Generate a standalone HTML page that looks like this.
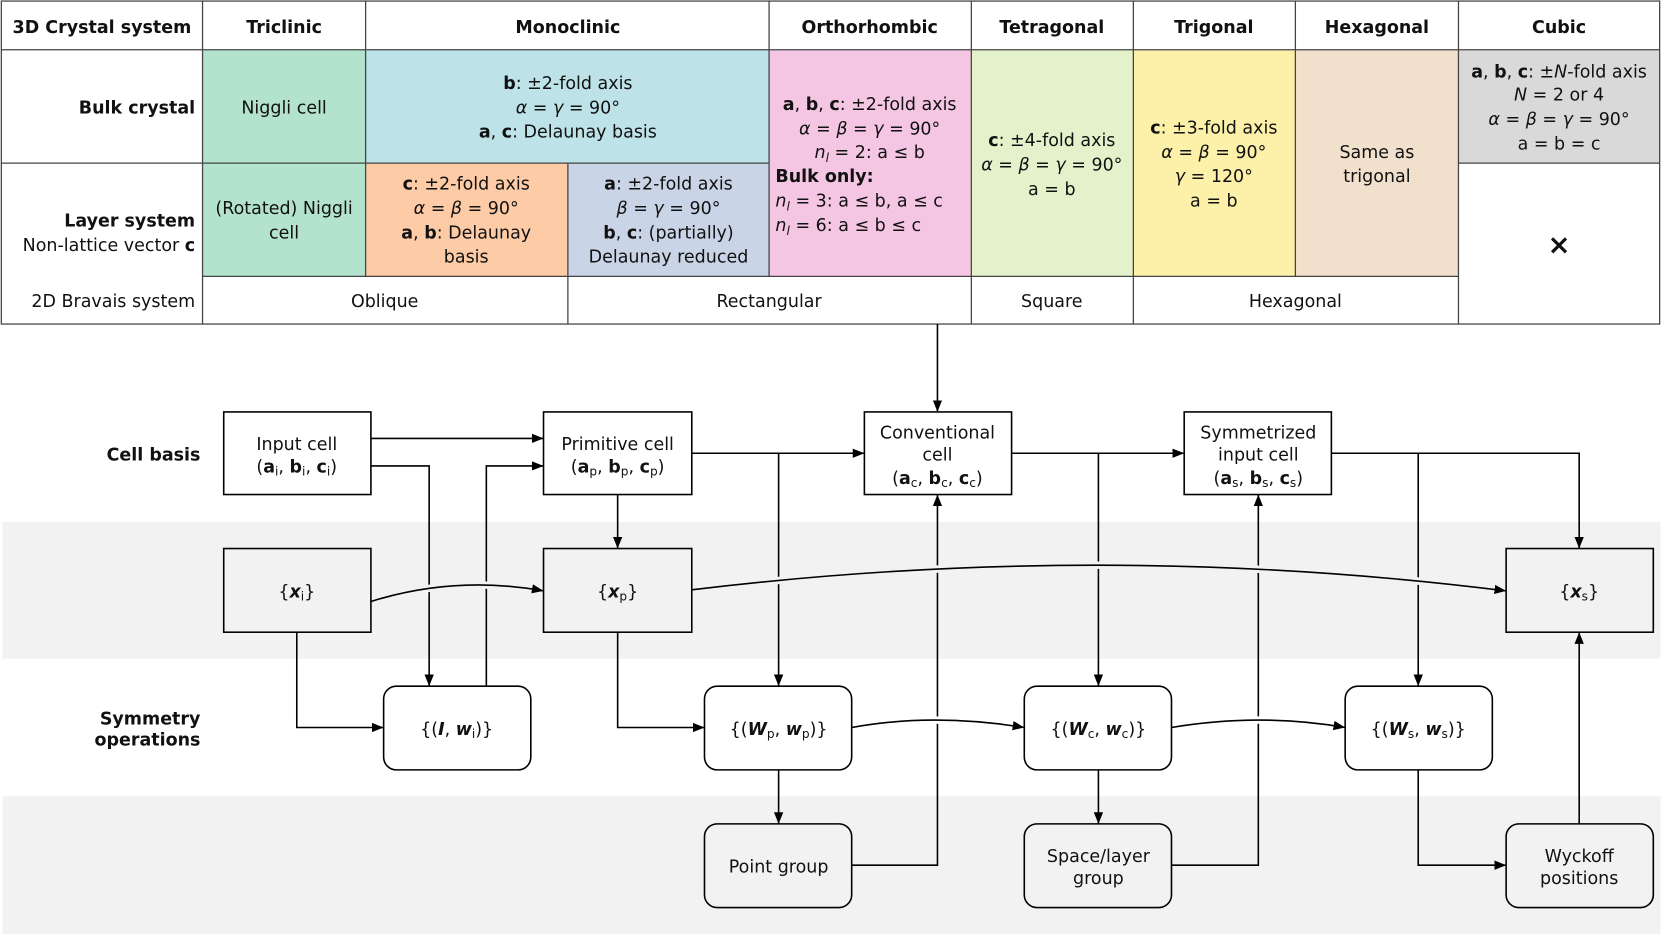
<!DOCTYPE html>
<html><head><meta charset="utf-8"><style>
html,body{margin:0;padding:0;background:#fff}
svg{display:block}
text{font-family:"DejaVu Sans","Liberation Sans",sans-serif;font-size:16.5px;fill:#111}
.b{font-weight:bold}
.i{font-style:italic}
tspan.s{font-size:11.5px}
text.x{font-size:26px;font-weight:bold}
</style></head><body>
<svg width="1661" height="934" viewBox="0 0 1568 882" xmlns="http://www.w3.org/2000/svg">
<defs>
<marker id="ar" viewBox="0 0 10 10" refX="10" refY="5" markerWidth="11" markerHeight="11" markerUnits="userSpaceOnUse" orient="auto"><path d="M0,1 L10,5 L0,9 z" fill="#000"/></marker>
</defs>
<rect x="191" y="47" width="154" height="214" fill="#b3e3cc"/>
<rect x="345" y="47" width="381" height="107" fill="#bde3e8"/>
<rect x="345" y="154" width="191" height="107" fill="#fdcba6"/>
<rect x="536" y="154" width="190" height="107" fill="#c9d4e6"/>
<rect x="726" y="47" width="191" height="214" fill="#f4c6e3"/>
<rect x="917" y="47" width="153" height="214" fill="#e4f2cb"/>
<rect x="1070" y="47" width="153" height="214" fill="#fdf0a8"/>
<rect x="1223" y="47" width="154" height="214" fill="#f1e0cb"/>
<rect x="1377" y="47" width="190" height="107" fill="#d9d9d9"/>
<g stroke="#444" stroke-width="1.2" fill="none">
<rect x="1" y="1" width="1566" height="305"/>
<line x1="1" y1="47" x2="1567" y2="47"/>
<line x1="1" y1="154" x2="191" y2="154"/>
<line x1="191" y1="154" x2="726" y2="154"/>
<line x1="1377" y1="154" x2="1567" y2="154"/>
<line x1="191" y1="261" x2="1377" y2="261"/>
<line x1="191" y1="1" x2="191" y2="306"/>
<line x1="345" y1="1" x2="345" y2="261"/>
<line x1="536" y1="154" x2="536" y2="306"/>
<line x1="726" y1="1" x2="726" y2="261"/>
<line x1="917" y1="1" x2="917" y2="306"/>
<line x1="1070" y1="1" x2="1070" y2="306"/>
<line x1="1223" y1="1" x2="1223" y2="261"/>
<line x1="1377" y1="1" x2="1377" y2="306"/>
</g>
<g text-anchor="middle">
<text x="96" y="31" class="b">3D Crystal system</text>
<text x="268" y="31" class="b">Triclinic</text>
<text x="536" y="31" class="b">Monoclinic</text>
<text x="821" y="31" class="b">Orthorhombic</text>
<text x="993" y="31" class="b">Tetragonal</text>
<text x="1146" y="31" class="b">Trigonal</text>
<text x="1300" y="31" class="b">Hexagonal</text>
<text x="1472" y="31" class="b">Cubic</text>
<text x="268" y="107">Niggli cell</text>
<text x="536" y="84"><tspan class="b">b</tspan>: ±2-fold axis</text>
<text x="536" y="107"><tspan class="i">α</tspan> = <tspan class="i">γ</tspan> = 90°</text>
<text x="536" y="130"><tspan class="b">a</tspan>, <tspan class="b">c</tspan>: Delaunay basis</text>
<text x="268" y="202">(Rotated) Niggli</text>
<text x="268" y="225">cell</text>
<text x="440" y="179"><tspan class="b">c</tspan>: ±2-fold axis</text>
<text x="440" y="202"><tspan class="i">α</tspan> = <tspan class="i">β</tspan> = 90°</text>
<text x="440" y="225"><tspan class="b">a</tspan>, <tspan class="b">b</tspan>: Delaunay</text>
<text x="440" y="248">basis</text>
<text x="631" y="179"><tspan class="b">a</tspan>: ±2-fold axis</text>
<text x="631" y="202"><tspan class="i">β</tspan> = <tspan class="i">γ</tspan> = 90°</text>
<text x="631" y="225"><tspan class="b">b</tspan>, <tspan class="b">c</tspan>: (partially)</text>
<text x="631" y="248">Delaunay reduced</text>
<text x="821" y="104"><tspan class="b">a</tspan>, <tspan class="b">b</tspan>, <tspan class="b">c</tspan>: ±2-fold axis</text>
<text x="821" y="127"><tspan class="i">α</tspan> = <tspan class="i">β</tspan> = <tspan class="i">γ</tspan> = 90°</text>
<text x="821" y="149"><tspan class="i">n</tspan><tspan class="i s" dy="4">l</tspan><tspan dy="-4"> = 2: a ≤ b</tspan></text>
<text x="993" y="138"><tspan class="b">c</tspan>: ±4-fold axis</text>
<text x="993" y="161"><tspan class="i">α</tspan> = <tspan class="i">β</tspan> = <tspan class="i">γ</tspan> = 90°</text>
<text x="993" y="184">a = b</text>
<text x="1146" y="126"><tspan class="b">c</tspan>: ±3-fold axis</text>
<text x="1146" y="149"><tspan class="i">α</tspan> = <tspan class="i">β</tspan> = 90°</text>
<text x="1146" y="172"><tspan class="i">γ</tspan> = 120°</text>
<text x="1146" y="195">a = b</text>
<text x="1300" y="149">Same as</text>
<text x="1300" y="172">trigonal</text>
<text x="1472" y="73"><tspan class="b">a</tspan>, <tspan class="b">b</tspan>, <tspan class="b">c</tspan>: ±<tspan class="i">N</tspan>-fold axis</text>
<text x="1472" y="95"><tspan class="i">N</tspan> = 2 or 4</text>
<text x="1472" y="118"><tspan class="i">α</tspan> = <tspan class="i">β</tspan> = <tspan class="i">γ</tspan> = 90°</text>
<text x="1472" y="141">a = b = c</text>
<text x="1472" y="240" class="x">×</text>
<text x="363" y="290">Oblique</text>
<text x="726" y="290">Rectangular</text>
<text x="993" y="290">Square</text>
<text x="1223" y="290">Hexagonal</text>
</g>
<g text-anchor="start">
<text x="732" y="172" class="b">Bulk only:</text>
<text x="732" y="195"><tspan class="i">n</tspan><tspan class="i s" dy="4">l</tspan><tspan dy="-4"> = 3: a ≤ b, a ≤ c</tspan></text>
<text x="732" y="218"><tspan class="i">n</tspan><tspan class="i s" dy="4">l</tspan><tspan dy="-4"> = 6: a ≤ b ≤ c</tspan></text>
</g>
<g text-anchor="end">
<text x="184" y="107" class="b">Bulk crystal</text>
<text x="184" y="214" class="b">Layer system</text>
<text x="184" y="237">Non-lattice vector <tspan class="b">c</tspan></text>
<text x="184" y="290">2D Bravais system</text>
<text x="189" y="435" class="b">Cell basis</text>
<text x="189" y="564" class="b">Atom coordinates</text>
<text x="189" y="684" class="b">Symmetry</text>
<text x="189" y="704" class="b">operations</text>
<text x="189" y="814" class="b">Symmetry</text>
<text x="189" y="834" class="b">classification</text>
</g>
<rect x="2" y="493" width="1566" height="129" fill="#f2f2f2"/>
<rect x="2" y="752" width="1566" height="130" fill="#f2f2f2"/>
<g stroke="#000" stroke-width="1.5" fill="none">
<path d="M885,306 V389" marker-end="url(#ar)"/>
<path d="M350,414 H513" marker-end="url(#ar)"/>
<path d="M350,440 H405 V648" marker-end="url(#ar)"/>
<path d="M459,648 V440 H513" marker-end="url(#ar)"/>
<path d="M653,428 H816" marker-end="url(#ar)"/>
<path d="M735,428 V648" marker-end="url(#ar)"/>
<path d="M583,467 V518" marker-end="url(#ar)"/>
<path d="M280,597 V687 H362" marker-end="url(#ar)"/>
<path d="M583,597 V687 H665" marker-end="url(#ar)"/>
<path d="M955,428 H1118" marker-end="url(#ar)"/>
<path d="M1037,428 V648" marker-end="url(#ar)"/>
<path d="M1257,428 H1491 V518" marker-end="url(#ar)"/>
<path d="M1339,428 V648" marker-end="url(#ar)"/>
<path d="M804,817 H885 V467" marker-end="url(#ar)"/>
<path d="M735,727 V778" marker-end="url(#ar)"/>
<path d="M1037,727 V778" marker-end="url(#ar)"/>
<path d="M1106,817 H1188 V467" marker-end="url(#ar)"/>
<path d="M1339,727 V817 H1422" marker-end="url(#ar)"/>
<path d="M1491,778 V597" marker-end="url(#ar)"/>
</g>
<g fill="none">
<path d="M350,568 Q430,543 513,558" stroke="#f2f2f2" stroke-width="7"/>
<path d="M653,557 Q1040,510 1422,558" stroke="#f2f2f2" stroke-width="7"/>
<path d="M804,687 Q880,673 967,687" stroke="#fff" stroke-width="7"/>
<path d="M1106,687 Q1190,673 1270,687" stroke="#fff" stroke-width="7"/>
<g stroke="#000" stroke-width="1.5">
<path d="M350,568 Q430,543 513,558" marker-end="url(#ar)"/>
<path d="M653,557 Q1040,510 1422,558" marker-end="url(#ar)"/>
<path d="M804,687 Q880,673 967,687" marker-end="url(#ar)"/>
<path d="M1106,687 Q1190,673 1270,687" marker-end="url(#ar)"/>
</g>
</g>
<g stroke="#000" stroke-width="1.5">
<rect x="211" y="389" width="139" height="78" fill="#fff"/>
<rect x="513" y="389" width="140" height="78" fill="#fff"/>
<rect x="816" y="389" width="139" height="78" fill="#fff"/>
<rect x="1118" y="389" width="139" height="78" fill="#fff"/>
<rect x="211" y="518" width="139" height="79" fill="#f2f2f2"/>
<rect x="513" y="518" width="140" height="79" fill="#f2f2f2"/>
<rect x="1422" y="518" width="139" height="79" fill="#f2f2f2"/>
<rect x="362" y="648" width="139" height="79" rx="12" fill="#fff"/>
<rect x="665" y="648" width="139" height="79" rx="12" fill="#fff"/>
<rect x="967" y="648" width="139" height="79" rx="12" fill="#fff"/>
<rect x="1270" y="648" width="139" height="79" rx="12" fill="#fff"/>
<rect x="665" y="778" width="139" height="79" rx="12" fill="#f2f2f2"/>
<rect x="967" y="778" width="139" height="79" rx="12" fill="#f2f2f2"/>
<rect x="1422" y="778" width="139" height="79" rx="12" fill="#f2f2f2"/>
</g>
<g text-anchor="middle">
<text x="280" y="425">Input cell</text>
<text x="280" y="446">(<tspan class="b">a</tspan><tspan class="s" dy="3">i</tspan><tspan dy="-3">, </tspan><tspan class="b">b</tspan><tspan class="s" dy="3">i</tspan><tspan dy="-3">, </tspan><tspan class="b">c</tspan><tspan class="s" dy="3">i</tspan><tspan dy="-3">)</tspan></text>
<text x="583" y="425">Primitive cell</text>
<text x="583" y="446">(<tspan class="b">a</tspan><tspan class="s" dy="3">p</tspan><tspan dy="-3">, </tspan><tspan class="b">b</tspan><tspan class="s" dy="3">p</tspan><tspan dy="-3">, </tspan><tspan class="b">c</tspan><tspan class="s" dy="3">p</tspan><tspan dy="-3">)</tspan></text>
<text x="885" y="414">Conventional</text>
<text x="885" y="435">cell</text>
<text x="885" y="457">(<tspan class="b">a</tspan><tspan class="s" dy="3">c</tspan><tspan dy="-3">, </tspan><tspan class="b">b</tspan><tspan class="s" dy="3">c</tspan><tspan dy="-3">, </tspan><tspan class="b">c</tspan><tspan class="s" dy="3">c</tspan><tspan dy="-3">)</tspan></text>
<text x="1188" y="414">Symmetrized</text>
<text x="1188" y="435">input cell</text>
<text x="1188" y="457">(<tspan class="b">a</tspan><tspan class="s" dy="3">s</tspan><tspan dy="-3">, </tspan><tspan class="b">b</tspan><tspan class="s" dy="3">s</tspan><tspan dy="-3">, </tspan><tspan class="b">c</tspan><tspan class="s" dy="3">s</tspan><tspan dy="-3">)</tspan></text>
<text x="280" y="564">{<tspan class="b i">x</tspan><tspan class="s" dy="3">i</tspan><tspan dy="-3">}</tspan></text>
<text x="583" y="564">{<tspan class="b i">x</tspan><tspan class="s" dy="3">p</tspan><tspan dy="-3">}</tspan></text>
<text x="1491" y="564">{<tspan class="b i">x</tspan><tspan class="s" dy="3">s</tspan><tspan dy="-3">}</tspan></text>
<text x="431" y="694">{(<tspan class="b i">I</tspan>, <tspan class="b i">w</tspan><tspan class="s" dy="3">i</tspan><tspan dy="-3">)}</tspan></text>
<text x="735" y="694">{(<tspan class="b i">W</tspan><tspan class="s" dy="3">p</tspan><tspan dy="-3">, </tspan><tspan class="b i">w</tspan><tspan class="s" dy="3">p</tspan><tspan dy="-3">)}</tspan></text>
<text x="1037" y="694">{(<tspan class="b i">W</tspan><tspan class="s" dy="3">c</tspan><tspan dy="-3">, </tspan><tspan class="b i">w</tspan><tspan class="s" dy="3">c</tspan><tspan dy="-3">)}</tspan></text>
<text x="1339" y="694">{(<tspan class="b i">W</tspan><tspan class="s" dy="3">s</tspan><tspan dy="-3">, </tspan><tspan class="b i">w</tspan><tspan class="s" dy="3">s</tspan><tspan dy="-3">)}</tspan></text>
<text x="735" y="824">Point group</text>
<text x="1037" y="814">Space/layer</text>
<text x="1037" y="835">group</text>
<text x="1491" y="814">Wyckoff</text>
<text x="1491" y="835">positions</text>
</g>
</svg>
</body></html>
